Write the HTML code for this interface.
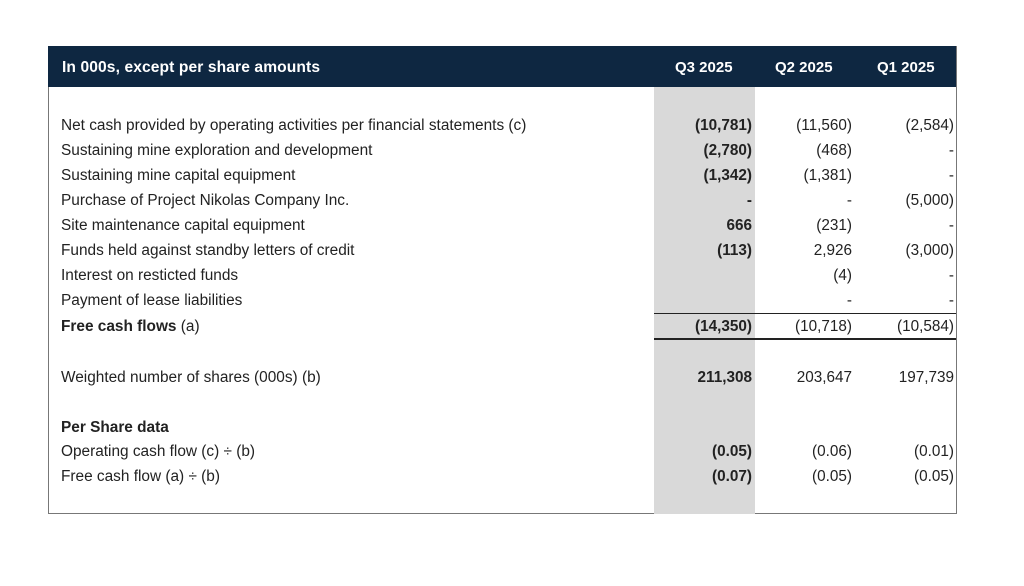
<!DOCTYPE html>
<html><head><style>
body{margin:0;width:1024px;height:586px;background:#fff;position:relative;font-family:"Liberation Sans",Arial,sans-serif;font-size:15px;color:#222;overflow:hidden}
.box{position:absolute;left:48px;top:46px;width:907px;height:467px;border:1px solid #777;border-top:none}
.hdr{position:absolute;left:48px;top:46px;width:908px;height:41px;background:#0e2741;color:#fff;font-weight:bold;font-size:15px}
.hdr span{position:absolute;top:13px}
.grey{position:absolute;left:654px;top:87px;width:101px;height:427px;background:#d9d9d9}
.r{position:absolute;left:0;width:1024px;height:18px}
.r .l{position:absolute;left:61px;font-size:15.4px}
.r .a,.r .b,.r .c{position:absolute;text-align:right;width:110px;font-size:15.3px}
.r .a{right:272px;font-weight:bold}
.r .b{right:172px}
.r .c{right:70px}
.line{position:absolute;left:654px;width:302px;height:1px;background:#222}
</style></head><body>
<div class="box"></div>
<div class="grey"></div>
<div class="hdr"><span style="left:14px;font-size:15.6px;letter-spacing:0.1px">In 000s, except per share amounts</span><span style="left:627px">Q3 2025</span><span style="left:727px">Q2 2025</span><span style="left:829px">Q1 2025</span></div>
<div class="r" style="top:117px"><span class="l">Net cash provided by operating activities per financial statements (c)</span><span class="a">(10,781)</span><span class="b">(11,560)</span><span class="c">(2,584)</span></div>
<div class="r" style="top:142px"><span class="l">Sustaining mine exploration and development</span><span class="a">(2,780)</span><span class="b">(468)</span><span class="c">-</span></div>
<div class="r" style="top:167px"><span class="l">Sustaining mine capital equipment</span><span class="a">(1,342)</span><span class="b">(1,381)</span><span class="c">-</span></div>
<div class="r" style="top:192px"><span class="l">Purchase of Project Nikolas Company Inc.</span><span class="a">-</span><span class="b">-</span><span class="c">(5,000)</span></div>
<div class="r" style="top:217px"><span class="l">Site maintenance capital equipment</span><span class="a">666</span><span class="b">(231)</span><span class="c">-</span></div>
<div class="r" style="top:242px"><span class="l">Funds held against standby letters of credit</span><span class="a">(113)</span><span class="b">2,926</span><span class="c">(3,000)</span></div>
<div class="r" style="top:267px"><span class="l">Interest on resticted funds</span><span class="b">(4)</span><span class="c">-</span></div>
<div class="r" style="top:292px"><span class="l">Payment of lease liabilities</span><span class="b">-</span><span class="c">-</span></div>
<div class="line" style="top:313px"></div>
<div class="r" style="top:318px"><span class="l"><b>Free cash flows</b> (a)</span><span class="a">(14,350)</span><span class="b">(10,718)</span><span class="c">(10,584)</span></div>
<div class="line" style="top:338px;height:2px"></div>
<div class="r" style="top:369px"><span class="l">Weighted number of shares (000s) (b)</span><span class="a">211,308</span><span class="b">203,647</span><span class="c">197,739</span></div>
<div class="r" style="top:419px"><span class="l"><b>Per Share data</b></span></div>
<div class="r" style="top:443px"><span class="l">Operating cash flow (c) ÷ (b)</span><span class="a">(0.05)</span><span class="b">(0.06)</span><span class="c">(0.01)</span></div>
<div class="r" style="top:468px"><span class="l">Free cash flow (a) ÷ (b)</span><span class="a">(0.07)</span><span class="b">(0.05)</span><span class="c">(0.05)</span></div>
</body></html>
